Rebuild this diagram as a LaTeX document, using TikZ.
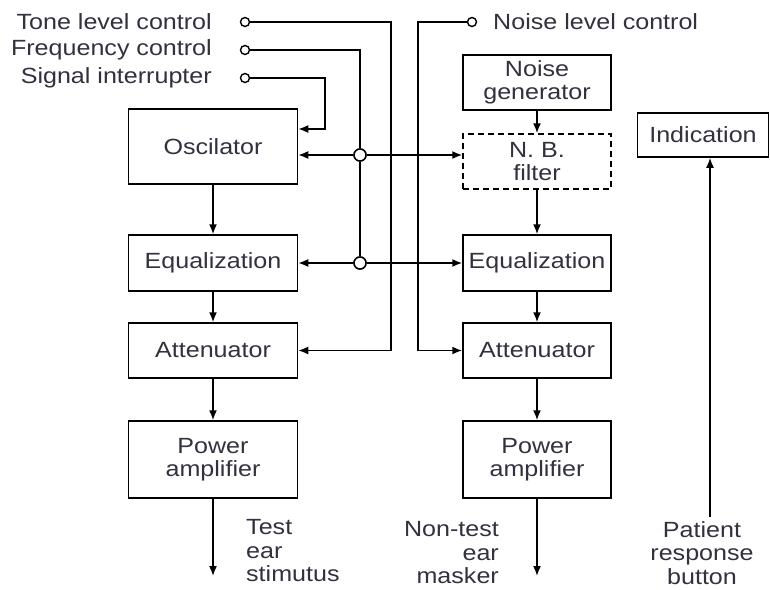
\documentclass[tikz,border=0pt]{standalone}
\usepackage{fontspec}
\setmainfont{Liberation Sans}[FakeStretch=1.14]
\usetikzlibrary{arrows.meta}
\definecolor{txt}{RGB}{50,50,62}
\begin{document}
\begin{tikzpicture}[x=1pt,y=-1pt,
  font=\fontsize{22}{23.5}\selectfont,
  every node/.style={text=txt},
  box/.style={draw=black, line width=1.5pt, inner sep=2pt, align=center},
  lbox/.style={box, minimum width=169pt},
  rbox/.style={box, minimum width=148pt},
  term/.style={circle, draw=black, fill=white, line width=1.4pt, inner sep=0pt, minimum size=9pt},
  junc/.style={circle, draw=black, fill=white, line width=1.4pt, inner sep=0pt, minimum size=12pt},
  wire/.style={line width=1.6pt},
  arr/.style={wire, -{Latex[length=10pt,width=8pt]}},
  lab/.style={inner sep=0pt}
]
\useasboundingbox (0,0) rectangle (770,589);
\fill[white] (0,0) rectangle (770,589);

% left column
\node[lbox, minimum height=75pt] (osc) at (213,146.5) {Oscilator};
\node[lbox, minimum height=56pt] (leq) at (213,263) {Equalization};
\node[lbox, minimum height=55pt] (latt) at (213,350.5) {Attenuator};
\node[lbox, minimum height=77pt] (lpa) at (213,459.5) {Power\\amplifier};

% right column
\node[rbox, minimum height=55pt] (ng) at (537,82.5) {Noise\\generator};
\node[rbox, minimum height=55pt, dash pattern=on 6pt off 4pt] (nb) at (537,161.5) {N. B.\\filter};
\node[rbox, minimum height=56pt] (req) at (537,263) {Equalization};
\node[rbox, minimum height=55pt] (ratt) at (537,350.5) {Attenuator};
\node[rbox, minimum height=77pt] (rpa) at (537,459.5) {Power\\amplifier};

% indication
\node[box, minimum width=131pt, minimum height=44pt] (ind) at (703,135) {Indication};

% control terminals
\node[term] (t1) at (245,22) {};
\node[term] (t2) at (245,50) {};
\node[term] (t3) at (245,78) {};
\node[term] (t4) at (472,22) {};
\node[lab, anchor=east] (l1) at (212,22) {Tone level control};
\node[lab, anchor=east] (l2) at (212,50) {Frequency control};
\node[lab, anchor=east] (l3) at (212,78) {Signal interrupter};
\node[lab, anchor=west] (l4) at (493,22) {Noise level control};

% junctions
\node[junc] (j1) at (360,155) {};
\node[junc] (j2) at (360,263) {};

% bend coordinates
\coordinate (c1) at (391,22);
\coordinate (c2) at (360,50);
\coordinate (c3) at (325,129);
\coordinate (c4) at (418,22);
\coordinate (c5) at (710,517);
\coordinate (o1) at (213,576);
\coordinate (o2) at (537,576);

% control wiring
\draw[arr] (t1.east) -- (c1) |- (latt.east);
\draw[wire] (t2.east) -- (c2) -- (j1.north);
\draw[wire] (j1.south) -- (j2.north);
\draw[arr] (t3.east) -| (c3) -- (c3 -| osc.east);
\draw[arr] (t4.west) -- (c4) |- (ratt.west);
\draw[arr] (j1.west) -- (j1.west -| osc.east);
\draw[arr] (j1.east) -- (j1.east -| nb.west);
\draw[arr] (j2.west) -- (leq.east);
\draw[arr] (j2.east) -- (req.west);
\node[junc] at (j1) {};
\node[junc] at (j2) {};

% signal chains
\draw[arr] (osc.south) -- (leq.north);
\draw[arr] (leq.south) -- (latt.north);
\draw[arr] (latt.south) -- (lpa.north);
\draw[arr] (lpa.south) -- (o1);
\draw[arr] (ng.south) -- (nb.north);
\draw[arr] (nb.south) -- (req.north);
\draw[arr] (req.south) -- (ratt.north);
\draw[arr] (ratt.south) -- (rpa.north);
\draw[arr] (rpa.south) -- (o2);
\draw[arr] (c5) -- (c5 |- ind.south);

% output labels
\node[lab, anchor=west, align=left] (test) at (246,551) {Test\\ear\\stimutus};
\node[lab, anchor=east, align=right] (nontest) at (499,553) {Non-test\\ear\\masker};
\node[lab, align=center] (pat) at (702,553) {Patient\\response\\button};
\end{tikzpicture}
\end{document}
